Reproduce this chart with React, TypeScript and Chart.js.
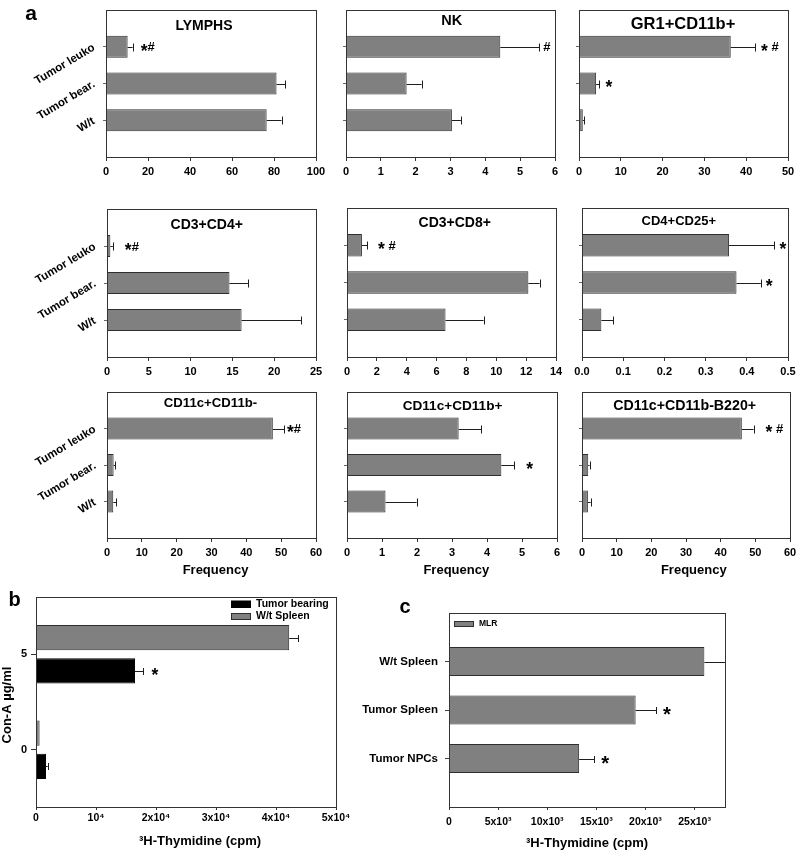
import React, { useEffect, useRef } from 'react';
import { Chart, registerables } from 'chart.js';

Chart.register(...registerables);

const W = 798;
const H = 851;
const FONT = "'Liberation Sans', Arial, Helvetica, sans-serif";
const BAR_GRAY = '#808080';
const BAR_EDGE = '#2e2e2e';
const AXIS = '#333333';

// ---------------- Panel a data ----------------
const groups = ['Tumor leuko', 'Tumor bear.', 'W/t'];

const lymphsMean = [10.3, 81.2, 76.5];
const lymphsSem = [2.4, 4.2, 7.1];
const lymphsSig = ['*#', '', ''];

const nkMean = [4.43, 1.74, 3.04];
const nkSem = [1.12, 0.43, 0.26];
const nkSig = ['#', '', ''];

const gr1Mean = [36.3, 4.1, 0.9];
const gr1Sem = [5.8, 0.8, 0.4];
const gr1Sig = ['* #', '*', ''];

const cd3cd4Mean = [0.4, 14.65, 16.1];
const cd3cd4Sem = [0.3, 2.2, 7.1];
const cd3cd4Sig = ['*#', '', ''];

const cd3cd8Mean = [1.0, 12.15, 6.6];
const cd3cd8Sem = [0.34, 0.75, 2.55];
const cd3cd8Sig = ['* #', '', ''];

const cd4cd25Mean = [0.357, 0.375, 0.047];
const cd4cd25Sem = [0.11, 0.059, 0.029];
const cd4cd25Sig = ['*', '*', ''];

const dcMinusMean = [47.6, 1.9, 1.8];
const dcMinusSem = [3.2, 0.5, 0.8];
const dcMinusSig = ['*#', '', ''];

const dcPlusMean = [3.19, 4.41, 1.1];
const dcPlusSem = [0.64, 0.37, 0.89];
const dcPlusSig = ['', '*', ''];

const b220Mean = [46.1, 1.8, 1.7];
const b220Sem = [3.4, 0.4, 0.8];
const b220Sig = ['* #', '', ''];

// ---------------- Panel b data ----------------
const conA = [5, 0];
const bSeries = ['W/t Spleen', 'Tumor bearing'];
const wtSpleenMean = [42200, 600];
const wtSpleenSem = [1500, 0];
const wtSpleenSig = ['', ''];
const tumorBearingMean = [16500, 1670];
const tumorBearingSem = [1400, 280];
const tumorBearingSig = ['*', ''];
const bTicks = [0, 10000, 20000, 30000, 40000, 50000];
const bTickLabels = ['0', '10\u2074', '2x10\u2074', '3x10\u2074', '4x10\u2074', '5x10\u2074'];

// ---------------- Panel c data ----------------
const cGroups = ['W/t Spleen', 'Tumor Spleen', 'Tumor NPCs'];
const mlrMean = [26000, 19000, 13250];
const mlrSem = [2900, 2080, 1530];
const mlrSig = ['', '*', '*'];
const cTicks = [0, 5000, 10000, 15000, 20000, 25000];
const cTickLabels = ['0', '5x10\u00b3', '10x10\u00b3', '15x10\u00b3', '20x10\u00b3', '25x10\u00b3'];

// ---------------- types & helpers ----------------
type TextItem = { text: string; x: number; y: number; size: number; align?: CanvasTextAlign; rot?: number };
type LegendItem = { label: string; color: string; edge: string; x: number; y: number; w: number; h: number; size: number };
type Overlay = {
  sems: (number | null)[][];
  sigs: string[][];
  sigGap: number;
  sigSize: number;
  capH: number;
  texts: TextItem[];
  legend?: LegendItem[];
};

function pad(area: number[], yW: number, xH: number) {
  const [l, t, r, b] = area;
  return { left: l - yW, top: t, right: W - r, bottom: H - b - xH };
}

function drawSig(ctx: CanvasRenderingContext2D, s: string, x: number, yc: number, size: number) {
  ctx.fillStyle = '#000';
  ctx.textAlign = 'left';
  ctx.textBaseline = 'alphabetic';
  let cx = x;
  for (const ch of s) {
    if (ch === ' ') {
      ctx.font = `bold ${size}px ${FONT}`;
      cx += ctx.measureText(' ').width;
      continue;
    }
    const fs = ch === '*' ? size * 1.35 : size;
    ctx.font = `bold ${fs}px ${FONT}`;
    const off = ch === '*' ? 0.56 * fs : 0.36 * fs;
    ctx.fillText(ch, cx, yc + off);
    cx += ctx.measureText(ch).width;
  }
}

function overlayPlugin(o: Overlay) {
  return {
    id: 'overlay',
    afterDatasetsDraw(chart: any) {
      const ctx: CanvasRenderingContext2D = chart.ctx;
      const a = chart.chartArea;
      const xs = chart.scales.x;
      ctx.save();
      chart.data.datasets.forEach((_ds: any, di: number) => {
        const meta = chart.getDatasetMeta(di);
        const sems = o.sems[di] || [];
        const sigs = o.sigs[di] || [];
        meta.data.forEach((el: any, i: number) => {
          const parsed = meta.controller.getParsed(i);
          if (!parsed || parsed.x == null || isNaN(parsed.x)) return;
          const mean = parsed.x;
          const sem = sems[i] || 0;
          const y = Math.round(el.y) + 0.5;
          const x0 = xs.getPixelForValue(mean);
          const x1 = xs.getPixelForValue(mean + sem);
          if (sem) {
            ctx.strokeStyle = '#1e1e1e';
            ctx.lineWidth = 1;
            ctx.beginPath();
            ctx.moveTo(x0, y);
            ctx.lineTo(Math.min(x1, a.right), y);
            if (x1 <= a.right) {
              const xc = Math.round(x1) + 0.5;
              ctx.moveTo(xc, y - o.capH / 2);
              ctx.lineTo(xc, y + o.capH / 2);
            }
            ctx.stroke();
          }
          const s = sigs[i];
          if (s) drawSig(ctx, s, x1 + o.sigGap, el.y, o.sigSize);
        });
      });
      ctx.strokeStyle = AXIS;
      ctx.lineWidth = 1;
      const l = Math.round(a.left), t = Math.round(a.top), r = Math.round(a.right), b = Math.round(a.bottom);
      ctx.strokeRect(l + 0.5, t + 0.5, r - l, b - t);
      (o.legend || []).forEach((li) => {
        ctx.fillStyle = li.color;
        ctx.fillRect(li.x, li.y - li.h / 2, li.w, li.h);
        ctx.strokeStyle = li.edge;
        ctx.strokeRect(li.x + 0.5, Math.round(li.y - li.h / 2) + 0.5, li.w - 1, li.h - 1);
        ctx.fillStyle = '#000';
        ctx.font = `bold ${li.size}px ${FONT}`;
        ctx.textAlign = 'left';
        ctx.textBaseline = 'middle';
        ctx.fillText(li.label, li.x + li.w + 5, li.y);
      });
      o.texts.forEach((t2) => {
        ctx.save();
        ctx.font = `bold ${t2.size}px ${FONT}`;
        ctx.fillStyle = '#000';
        ctx.textAlign = t2.align || 'center';
        ctx.textBaseline = 'middle';
        ctx.translate(t2.x, t2.y);
        if (t2.rot) ctx.rotate((t2.rot * Math.PI) / 180);
        ctx.fillText(t2.text, 0, 0);
        ctx.restore();
      });
      ctx.restore();
    },
  };
}

// ---------------- Panel a specs ----------------
type ASpec = {
  title: string; mean: number[]; sem: number[]; sig: string[];
  max: number; step: number; dec: number;
  area: number[]; showY: boolean; titleXY: number[]; titleSize: number; gap: number;
  extra?: TextItem[];
};

const panelsA: ASpec[] = [
  { title: 'LYMPHS', mean: lymphsMean, sem: lymphsSem, sig: lymphsSig, max: 100, step: 20, dec: 0, area: [106, 10, 316, 157], showY: true, titleXY: [204, 26], titleSize: 14, gap: 8,
    extra: [{ text: 'a', x: 31, y: 14, size: 21 }] },
  { title: 'NK', mean: nkMean, sem: nkSem, sig: nkSig, max: 6, step: 1, dec: 0, area: [346, 10, 555, 157], showY: false, titleXY: [451.7, 20.5], titleSize: 14.5, gap: 4 },
  { title: 'GR1+CD11b+', mean: gr1Mean, sem: gr1Sem, sig: gr1Sig, max: 50, step: 10, dec: 0, area: [579, 10, 788, 157], showY: false, titleXY: [683, 24], titleSize: 16.5, gap: 6 },
  { title: 'CD3+CD4+', mean: cd3cd4Mean, sem: cd3cd4Sem, sig: cd3cd4Sig, max: 25, step: 5, dec: 0, area: [107, 209, 316, 357], showY: true, titleXY: [206.7, 225], titleSize: 14, gap: 12 },
  { title: 'CD3+CD8+', mean: cd3cd8Mean, sem: cd3cd8Sem, sig: cd3cd8Sig, max: 14, step: 2, dec: 0, area: [347, 208, 556, 357], showY: false, titleXY: [454.7, 223.3], titleSize: 14, gap: 11 },
  { title: 'CD4+CD25+', mean: cd4cd25Mean, sem: cd4cd25Sem, sig: cd4cd25Sig, max: 0.5, step: 0.1, dec: 1, area: [582, 208, 788, 357], showY: false, titleXY: [678.8, 221.7], titleSize: 13, gap: 5 },
  { title: 'CD11c+CD11b-', mean: dcMinusMean, sem: dcMinusSem, sig: dcMinusSig, max: 60, step: 10, dec: 0, area: [107, 392, 316, 538], showY: true, titleXY: [210.5, 403.5], titleSize: 13.2, gap: 3,
    extra: [{ text: 'Frequency', x: 215.5, y: 570, size: 13 }] },
  { title: 'CD11c+CD11b+', mean: dcPlusMean, sem: dcPlusSem, sig: dcPlusSig, max: 6, step: 1, dec: 0, area: [347, 392, 557, 538], showY: false, titleXY: [452.5, 406.5], titleSize: 13.6, gap: 12,
    extra: [{ text: 'Frequency', x: 456.3, y: 570, size: 13 }] },
  { title: 'CD11c+CD11b-B220+', mean: b220Mean, sem: b220Sem, sig: b220Sig, max: 60, step: 10, dec: 0, area: [582, 392, 790, 538], showY: false, titleXY: [684.7, 406.5], titleSize: 14.2, gap: 12,
    extra: [{ text: 'Frequency', x: 693.8, y: 570, size: 13 }] },
];

function panelAConfig(p: ASpec): any {
  const yW = p.showY ? 100 : 10;
  const xH = 30;
  return {
    type: 'bar',
    data: {
      labels: ['', ...groups, ''],
      datasets: [{
        data: [null, ...p.mean, null],
        backgroundColor: BAR_GRAY,
        borderColor: BAR_EDGE,
        borderWidth: 1,
        barPercentage: 0.6,
        categoryPercentage: 1,
      }],
    },
    options: {
      indexAxis: 'y',
      responsive: false,
      animation: false,
      devicePixelRatio: 1,
      layout: { padding: pad(p.area, yW, xH) },
      plugins: { legend: { display: false }, tooltip: { enabled: false } },
      scales: {
        x: {
          type: 'linear', min: 0, max: p.max,
          ticks: {
            stepSize: p.step, color: '#000', padding: 4,
            font: { size: 11, weight: 'bold' },
            callback: (v: any) => (p.dec ? Number(v).toFixed(p.dec) : String(Math.round(Number(v) * 1000) / 1000)),
          },
          grid: { drawOnChartArea: false, tickLength: 4, color: AXIS },
          border: { color: AXIS },
          afterFit: (s: any) => { s.height = xH; s.paddingLeft = 0; s.paddingRight = 0; },
        },
        y: {
          type: 'category', offset: false,
          grid: {
            offset: false, drawOnChartArea: false, tickLength: 3, color: AXIS,
            tickColor: (c: any) => (c.index === 0 || c.index === 4 ? 'rgba(0,0,0,0)' : '#666'),
          },
          border: { color: AXIS },
          ticks: {
            display: p.showY, autoSkip: false, minRotation: 31, maxRotation: 31, padding: 9,
            color: '#000', font: { size: 11.5, weight: 'bold' },
          },
          afterFit: (s: any) => { s.width = yW; s.paddingTop = 0; s.paddingBottom = 0; },
        },
      },
    },
    plugins: [overlayPlugin({
      sems: [[null, ...p.sem, null]],
      sigs: [['', ...p.sig, '']],
      sigGap: p.gap, sigSize: 13, capH: 8,
      texts: [{ text: p.title, x: p.titleXY[0], y: p.titleXY[1], size: p.titleSize }, ...(p.extra || [])],
    })],
  };
}

// ---------------- Panel b ----------------
function panelBConfig(): any {
  const area = [36, 597, 336, 807];
  const yW = 20;
  const xH = 30;
  return {
    type: 'bar',
    data: {
      datasets: [
        {
          label: bSeries[0],
          data: conA.map((c, i) => ({ x: wtSpleenMean[i], y: c })),
          backgroundColor: BAR_GRAY, borderColor: BAR_EDGE, borderWidth: 1,
          categoryPercentage: 0.695, barPercentage: 0.76,
        },
        {
          label: bSeries[1],
          data: conA.map((c, i) => ({ x: tumorBearingMean[i], y: c })),
          backgroundColor: '#000', borderColor: '#000', borderWidth: 1,
          categoryPercentage: 0.695, barPercentage: 0.76,
        },
      ],
    },
    options: {
      indexAxis: 'y',
      responsive: false,
      animation: false,
      devicePixelRatio: 1,
      layout: { padding: pad(area, yW, xH) },
      plugins: { legend: { display: false }, tooltip: { enabled: false } },
      scales: {
        x: {
          type: 'linear', min: 0, max: 50000,
          afterBuildTicks: (s: any) => { s.ticks = bTicks.map((v) => ({ value: v })); },
          ticks: {
            color: '#000', padding: 2, font: { size: 10.5, weight: 'bold' },
            callback: (v: any) => bTickLabels[bTicks.indexOf(Number(v))] ?? '',
          },
          grid: { drawOnChartArea: false, tickLength: 3, color: AXIS },
          border: { color: AXIS },
          afterFit: (s: any) => { s.height = xH; s.paddingLeft = 0; s.paddingRight = 0; },
        },
        y: {
          type: 'linear', min: -3, max: 8, offset: false,
          afterBuildTicks: (s: any) => { s.ticks = conA.map((v) => ({ value: v })); },
          ticks: { color: '#000', padding: 4, font: { size: 11, weight: 'bold' } },
          grid: { offset: false, drawOnChartArea: false, tickLength: 5, color: AXIS },
          border: { color: AXIS },
          afterFit: (s: any) => { s.width = yW; s.paddingTop = 0; s.paddingBottom = 0; },
        },
      },
    },
    plugins: [overlayPlugin({
      sems: [wtSpleenSem, tumorBearingSem],
      sigs: [wtSpleenSig, tumorBearingSig],
      sigGap: 8, sigSize: 13, capH: 7,
      legend: [
        { label: bSeries[1], color: '#000', edge: '#000', x: 231, y: 604, w: 20, h: 7, size: 10.5 },
        { label: bSeries[0], color: BAR_GRAY, edge: BAR_EDGE, x: 231, y: 616.5, w: 20, h: 7, size: 10.5 },
      ],
      texts: [
        { text: 'b', x: 14.5, y: 600.5, size: 20 },
        { text: 'Con-A \u00b5g/ml', x: 7, y: 705, size: 13, rot: -90 },
        { text: '\u00b3H-Thymidine (cpm)', x: 200, y: 841.5, size: 13 },
      ],
    })],
  };
}

// ---------------- Panel c ----------------
function panelCConfig(): any {
  const area = [449, 613, 725, 807];
  const yW = 100;
  const xH = 30;
  return {
    type: 'bar',
    data: {
      labels: ['', ...cGroups, ''],
      datasets: [{
        label: 'MLR',
        data: [null, ...mlrMean, null],
        backgroundColor: BAR_GRAY, borderColor: BAR_EDGE, borderWidth: 1,
        barPercentage: 0.6, categoryPercentage: 1,
      }],
    },
    options: {
      indexAxis: 'y',
      responsive: false,
      animation: false,
      devicePixelRatio: 1,
      layout: { padding: pad(area, yW, xH) },
      plugins: { legend: { display: false }, tooltip: { enabled: false } },
      scales: {
        x: {
          type: 'linear', min: 0, max: 28100,
          afterBuildTicks: (s: any) => { s.ticks = cTicks.map((v) => ({ value: v })); },
          ticks: {
            color: '#000', padding: 6, font: { size: 10.5, weight: 'bold' },
            callback: (v: any) => cTickLabels[cTicks.indexOf(Number(v))] ?? '',
          },
          grid: { drawOnChartArea: false, tickLength: 3, color: AXIS },
          border: { color: AXIS },
          afterFit: (s: any) => { s.height = xH; s.paddingLeft = 0; s.paddingRight = 0; },
        },
        y: {
          type: 'category', offset: false,
          grid: {
            offset: false, drawOnChartArea: false, tickLength: 4, color: AXIS,
            tickColor: (c: any) => (c.index === 0 || c.index === 4 ? 'rgba(0,0,0,0)' : '#444'),
          },
          border: { color: AXIS },
          ticks: { autoSkip: false, padding: 7, color: '#000', font: { size: 11.5, weight: 'bold' } },
          afterFit: (s: any) => { s.width = yW; s.paddingTop = 0; s.paddingBottom = 0; },
        },
      },
    },
    plugins: [overlayPlugin({
      sems: [[null, ...mlrSem, null]],
      sigs: [['', ...mlrSig, '']],
      sigGap: 7, sigSize: 15, capH: 7,
      legend: [{ label: 'MLR', color: BAR_GRAY, edge: BAR_EDGE, x: 454, y: 624, w: 20, h: 6, size: 8.5 }],
      texts: [
        { text: 'c', x: 405, y: 607, size: 20 },
        { text: '\u00b3H-Thymidine (cpm)', x: 587, y: 843.3, size: 13 },
      ],
    })],
  };
}

const CONFIGS: (() => any)[] = [
  ...panelsA.map((p) => () => panelAConfig(p)),
  panelBConfig,
  panelCConfig,
];

export default function App() {
  const refs = useRef<(HTMLCanvasElement | null)[]>([]);
  useEffect(() => {
    Chart.defaults.font.family = FONT;
    const charts = CONFIGS.map((cfg, i) => new Chart(refs.current[i] as HTMLCanvasElement, cfg()));
    return () => charts.forEach((c) => c.destroy());
  }, []);
  return (
    <div style={{ position: 'absolute', left: 0, top: 0, width: W, height: H, background: '#fff', overflow: 'hidden' }}>
      {CONFIGS.map((_, i) => (
        <canvas
          key={i}
          ref={(el) => { refs.current[i] = el; }}
          width={W}
          height={H}
          style={{ position: 'absolute', left: 0, top: 0, width: W, height: H }}
        />
      ))}
    </div>
  );
}
